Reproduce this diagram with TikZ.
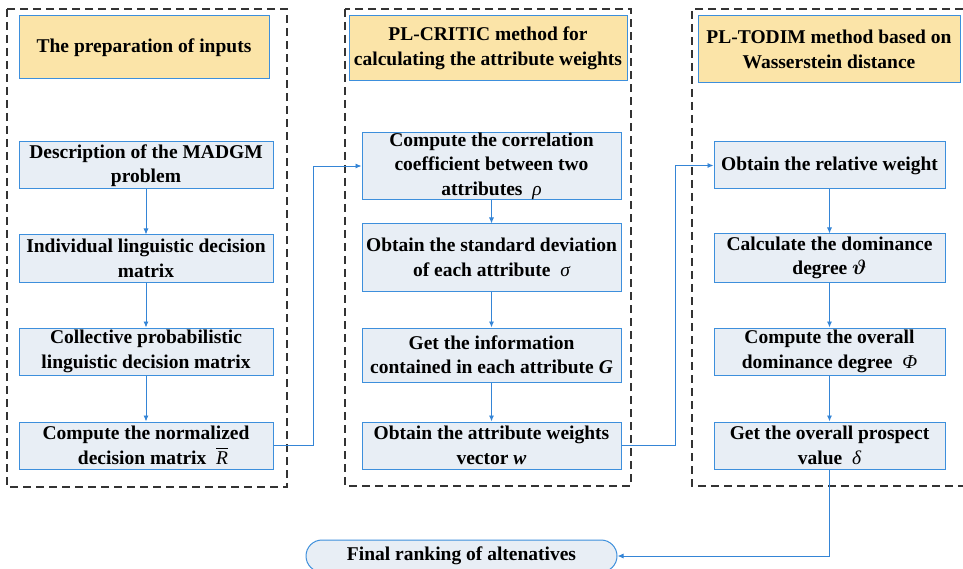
\documentclass[tikz,border=0pt]{standalone}
\usepackage{amsmath,amsbsy}
\usepackage{fontspec}
\setmainfont{Liberation Serif}
\usetikzlibrary{arrows.meta,calc}
\definecolor{boxfill}{HTML}{E8EEF5}
\definecolor{boxline}{HTML}{3D8FDC}
\definecolor{titlefill}{HTML}{FBE4A8}
\definecolor{arrowc}{HTML}{3585D6}
\definecolor{framec}{HTML}{333333}
\begin{document}
\begin{tikzpicture}[x=1pt,y=-1pt,
  every node/.style={font=\fontsize{19.5}{24.5}\selectfont\bfseries, align=center, inner sep=0pt},
  stepbox/.style={draw=boxline, fill=boxfill, line width=1pt},
  titlebox/.style={draw=boxline, fill=titlefill, line width=1pt},
  frame/.style={draw=framec, line width=1.2pt, dash pattern=on 8pt off 5pt},
  conn/.style={draw=arrowc, line width=0.9pt, -{Latex[length=6pt,width=5pt]}},
  plain/.style={draw=arrowc, line width=0.9pt}]
\useasboundingbox (0,0) rectangle (963,569);
% frames
\draw[frame] (7,9) rectangle (287,487);
\draw[frame] (345,9) rectangle (631,486);
\draw[frame] (963,9) -- (692,9) -- (692,486) -- (963,486);
% titles
\node[titlebox, minimum width=250pt, minimum height=63pt] (t1) at (144,47.5) {The preparation of inputs};
\node[titlebox, minimum width=278pt, minimum height=65pt] (t2) at (488,48.5) {PL-CRITIC method for\\calculating the attribute weights};
\node[titlebox, minimum width=262pt, minimum height=67pt] (t3) at (829,49.5) {PL-TODIM method based on\\Wasserstein distance};
% left column
\node[stepbox, minimum width=254pt, minimum height=47pt] (desc) at (146,165.5) {Description of the MADGM\\problem};
\node[stepbox, minimum width=254pt, minimum height=47pt] (indiv) at (146,258.5) {Individual linguistic decision\\matrix};
\node[stepbox, minimum width=254pt, minimum height=47pt] (coll) at (146,351.5) {Collective probabilistic\\linguistic decision matrix};
\node[stepbox, minimum width=254pt, minimum height=47pt] (norm) at (146,445.5) {Compute the normalized\\\hspace*{14pt}decision matrix\ \ $\overline{\mbox{\mdseries\itshape R}}$};
% middle column
\node[stepbox, minimum width=259pt, minimum height=66pt] (corr) at (491.5,166) {Compute the correlation\\coefficient between two\\attributes\ \ {\mdseries\itshape ρ}};
\node[stepbox, minimum width=259pt, minimum height=67pt] (std) at (491.5,257.5) {Obtain the standard deviation\\of each attribute\ \ {\mdseries\itshape σ}};
\node[stepbox, minimum width=259pt, minimum height=54pt] (info) at (491.5,355) {Get the information\\contained in each attribute \textit{G}};
\node[stepbox, minimum width=259pt, minimum height=47pt] (wts) at (491.5,445.5) {Obtain the attribute weights\\vector \textit{w}};
% right column
\node[stepbox, minimum width=231pt, minimum height=47pt] (rel) at (829.5,165.5) {Obtain the relative weight};
\node[stepbox, minimum width=231pt, minimum height=48pt] (dom) at (829.5,258) {Calculate the dominance\\degree $\boldsymbol{\vartheta}$};
\node[stepbox, minimum width=231pt, minimum height=47pt] (ovr) at (829.5,351.5) {Compute the overall\\dominance degree\ \ {\mdseries\itshape Φ}};
\node[stepbox, minimum width=231pt, minimum height=47pt] (prosp) at (829.5,445.5) {Get the overall prospect\\value\ \ {\mdseries\itshape δ}};
% final
\node[stepbox, rounded corners=16pt, minimum width=311pt, minimum height=32pt] (final) at (461.5,556) {Final ranking of altenatives};
% connectors
\draw[conn] (desc) -- (indiv);
\draw[conn] (indiv) -- (coll);
\draw[conn] (coll) -- (norm);
\draw[conn] (corr) -- (std);
\draw[conn] (std) -- (info);
\draw[conn] (info) -- (wts);
\draw[conn] (rel) -- (dom);
\draw[conn] (dom) -- (ovr);
\draw[conn] (ovr) -- (prosp);
\coordinate (j1) at (313,0);
\coordinate (j2) at (675,0);
\draw[conn] (norm.east) -- (j1 |- norm.east) -- (j1 |- corr.west) -- (corr.west);
\draw[conn] (wts.east) -- (j2 |- wts.east) -- (j2 |- rel.west) -- (rel.west);
\draw[conn] (prosp.south) |- (final.east);
\end{tikzpicture}
\end{document}
